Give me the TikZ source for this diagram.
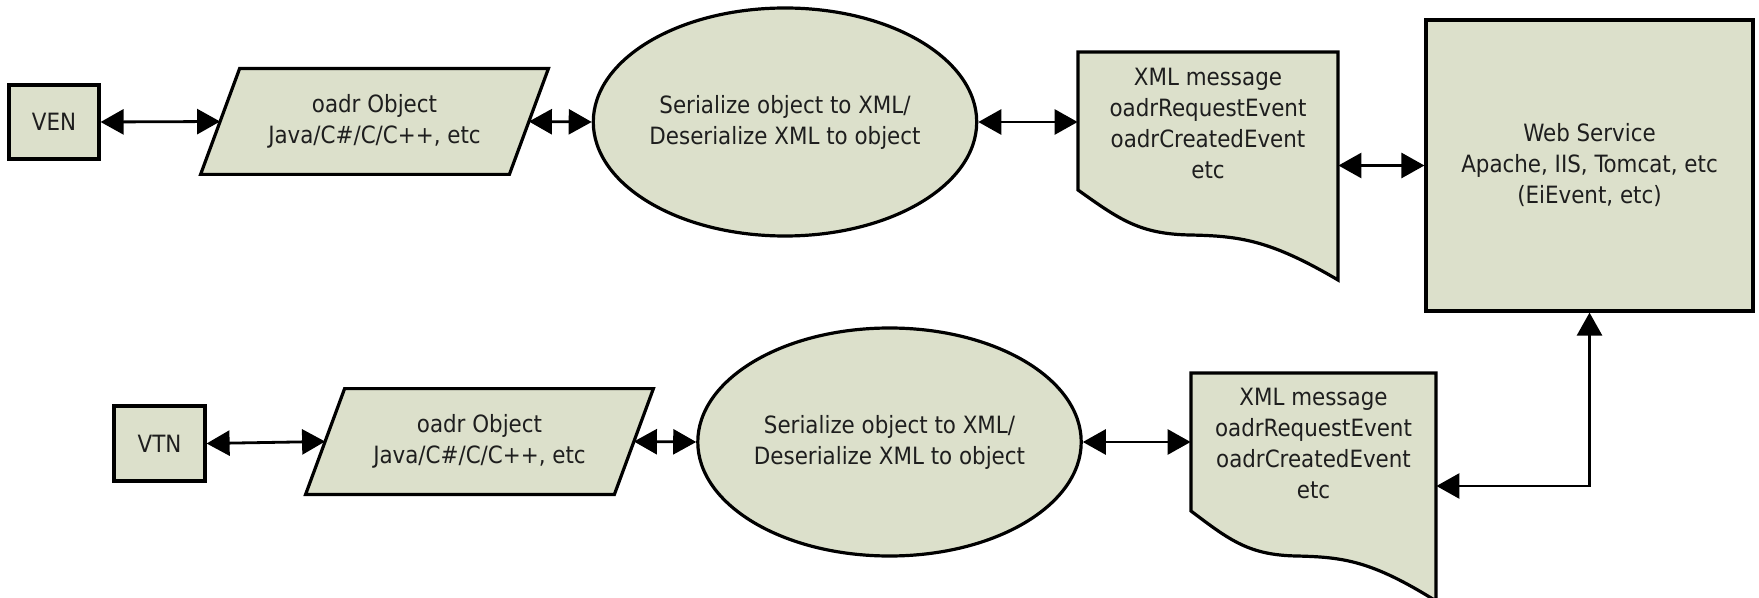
\documentclass[tikz,border=0pt]{standalone}
\usepackage{fontspec}
\setmainfont{DejaVu Sans Condensed}
\usetikzlibrary{shapes.geometric,arrows.meta,backgrounds,calc}
\definecolor{boxfill}{RGB}{220,224,203}
\definecolor{inkcol}{RGB}{30,30,30}
\begin{document}
\begin{tikzpicture}[x=0.5pt,y=-0.5pt,
  lbl/.style={font=\fontsize{11.9pt}{15.5pt}\selectfont, text=inkcol, align=center, inner sep=0pt},
  shapeline/.style={draw=black, line width=1.6pt, fill=boxfill, line join=miter},
  boxnode/.style={lbl, shapeline, rectangle},
  ellnode/.style={lbl, shapeline, ellipse, minimum width=168pt, minimum height=114pt, inner sep=0pt},
  link/.style={line width=1.4pt, {Triangle[length=11.5pt,width=12.5pt]}-{Triangle[length=11.5pt,width=12.5pt]}},
]
\useasboundingbox (0,0) rectangle (1759,598);

% top row
\node[boxnode, minimum width=45pt, minimum height=37pt] (ven) at (54,122) {VEN};
\node[lbl, minimum width=154pt, minimum height=52.5pt] (para1) at (374.5,121.5) {oadr Object\\Java/C\#/C/C++, etc};
\node[ellnode] (ell1) at (785,122) {Serialize object to XML/\\Deserialize XML to object};
\node[lbl, minimum width=130pt] (doc1) at (1208,123.5) {XML message\\oadrRequestEvent\\oadrCreatedEvent\\etc};
\node[boxnode, minimum width=163.5pt, minimum height=145.5pt] (ws) at (1589.5,165.5) {Web Service\\Apache, IIS, Tomcat, etc\\(EiEvent, etc)};

% bottom row
\node[boxnode, minimum width=45.5pt, minimum height=37.5pt] (vtn) at (159.5,443.5) {VTN};
\node[lbl, minimum width=154pt, minimum height=52.5pt] (para2) at (479.5,441.5) {oadr Object\\Java/C\#/C/C++, etc};
\node[ellnode] (ell2) at (889.5,442) {Serialize object to XML/\\Deserialize XML to object};
\node[lbl, minimum width=122.5pt] (doc2) at (1313.5,443) {XML message\\oadrRequestEvent\\oadrCreatedEvent\\etc};

\begin{scope}[on background layer]
  \path[shapeline] ($(para1.north west)+(19.5,0)$) -- ($(para1.north east)+(19.5,0)$)
     -- ($(para1.south east)+(-19.5,0)$) -- ($(para1.south west)+(-19.5,0)$) -- cycle;
  \path[shapeline] ($(para2.north west)+(19.5,0)$) -- ($(para2.north east)+(19.5,0)$)
     -- ($(para2.south east)+(-19.5,0)$) -- ($(para2.south west)+(-19.5,0)$) -- cycle;
  \path[shapeline] (1078,52) -- (1338,52) -- (1338,280)
     .. controls (1270,240) and (1240,236) .. (1190,235)
     .. controls (1140,234) and (1120,220) .. (1078,190) -- cycle;
  \path[shapeline] (1191,373) -- (1436,373) -- (1436,601)
     .. controls (1371.9,561) and (1343.6,557) .. (1296.5,556)
     .. controls (1249.4,555) and (1230.6,541) .. (1191,511) -- cycle;
\end{scope}

\coordinate (bend) at (1589.5,486);

\draw[link] (ven.east) -- (para1.west);
\draw[link] (para1.east) -- (ell1.west);
\draw[link] (ell1.east) -- (ell1.east -| doc1.west);
\draw[link] (doc1.east |- ws.west) -- (ws.west);
\draw[link] (vtn.east) -- (para2.west);
\draw[link] (para2.east) -- (ell2.west);
\draw[link] (ell2.east) -- (ell2.east -| doc2.west);
\draw[link] (ws.south) -- (bend) -- (bend -| doc2.east);
\end{tikzpicture}
\end{document}
